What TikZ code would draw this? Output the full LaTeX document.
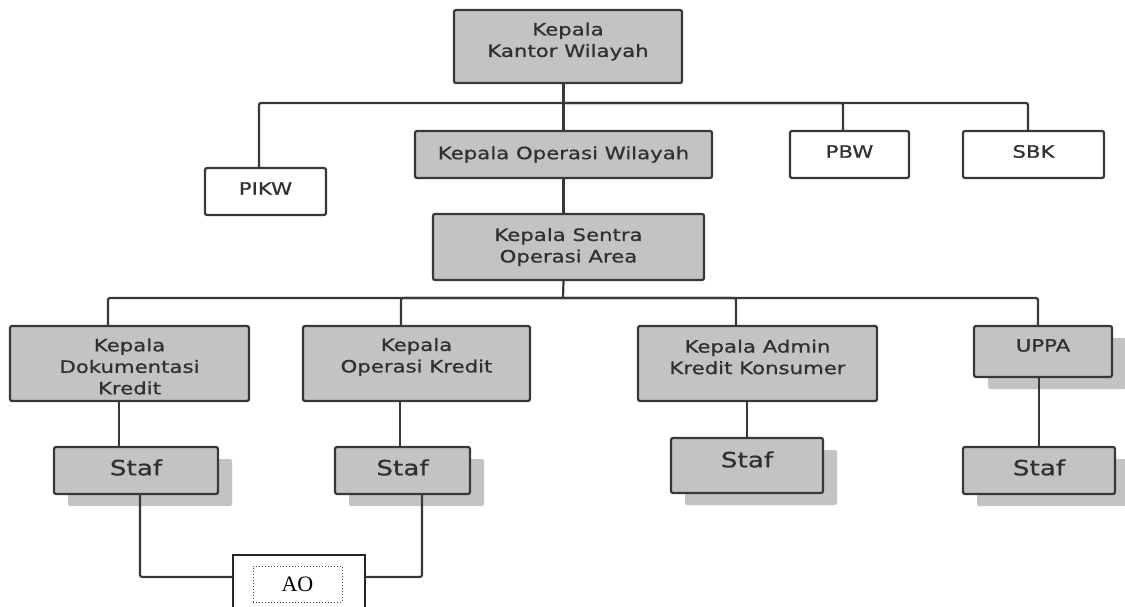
\documentclass[tikz,border=0pt]{standalone}
\usepackage{fontspec}
\newfontfamily\vf[FakeStretch=1.25,FakeBold=0.8]{DejaVu Sans}
\newfontfamily\tf{Liberation Serif}
\usetikzlibrary{shadows}
\definecolor{boxgray}{HTML}{C3C3C3}
\definecolor{linec}{HTML}{383838}
\definecolor{txtc}{HTML}{303030}
\begin{document}
\begin{tikzpicture}[x=1pt,y=-1pt,
 box/.style={draw=linec, line width=2.2pt, rounded corners=2pt, fill=boxgray, inner sep=0pt},
 wbox/.style={box, fill=white},
 txt/.style={font=\vf\fontsize{17}{21.5}\selectfont, text=txtc, align=center, inner sep=0pt},
 big/.style={font=\vf\fontsize{21}{25}\selectfont, text=txtc, inner sep=0pt},
 shad/.style={general shadow={fill=boxgray, shadow xshift=14pt, shadow yshift=-12pt}},
 conn/.style={draw=linec, line width=2.2pt, rounded corners=2pt}]
\useasboundingbox (0,0) rectangle (1125,606);
\fill[white] (0,0) rectangle (1125,606);

% level 0
\node[box, minimum width=228, minimum height=73, label={[txt,yshift=5pt]center:Kepala\\Kantor Wilayah}] (kkw) at (568,46.5) {};
% level 1
\node[wbox, minimum width=121, minimum height=47, label={[txt,yshift=3pt]center:PIKW}] (pikw) at (265.5,191.5) {};
\node[box, minimum width=297, minimum height=47, label={[txt]center:Kepala Operasi Wilayah}] (kow) at (563.5,154.5) {};
\node[wbox, minimum width=119, minimum height=47, label={[txt,yshift=3pt]center:PBW}] (pbw) at (849.5,154.5) {};
\node[wbox, minimum width=141, minimum height=47, label={[txt,yshift=3pt]center:SBK}] (sbk) at (1033.5,154.5) {};
% level 2
\node[box, minimum width=271, minimum height=66, label={[txt]center:Kepala Sentra\\Operasi Area}] (kso) at (568.5,247) {};
% level 3
\node[box, minimum width=239, minimum height=75, label={[txt,yshift=-3pt]center:Kepala\\Dokumentasi\\Kredit}] (kdk) at (129.5,363.5) {};
\node[box, minimum width=227, minimum height=75, label={[txt,yshift=6.5pt]center:Kepala\\Operasi Kredit}] (kok) at (416.5,363.5) {};
\node[box, minimum width=239, minimum height=75, label={[txt,yshift=6.5pt]center:Kepala Admin\\Kredit Konsumer}] (kak) at (757.5,363.5) {};
\node[box, shad, minimum width=138, minimum height=51, label={[txt,yshift=6pt]center:UPPA}] (uppa) at (1043,351.5) {};
% staff
\node[box, shad, minimum width=164, minimum height=47, label={[big,yshift=3pt]center:Staf}] (s1) at (136,470.5) {};
\node[box, shad, minimum width=135, minimum height=47, label={[big,yshift=3pt]center:Staf}] (s2) at (402.5,470.5) {};
\node[box, shad, minimum width=152, minimum height=55, label={[big,yshift=6pt]center:Staf}] (s3) at (747,465.5) {};
\node[box, shad, minimum width=152, minimum height=47, label={[big,yshift=3pt]center:Staf}] (s4) at (1039,470.5) {};
% AO
\node[draw=black!85, line width=2.2pt, fill=white, minimum width=132, minimum height=80, inner sep=0pt] (ao) at (299,595) {};
\node[draw=black!70, dotted, line width=1pt, minimum width=89, minimum height=36, inner sep=0pt, font=\tf\fontsize{22}{24}\selectfont] (aoin) at (297.5,584) {AO};

% connectors
\coordinate (b1) at (563,103);
\coordinate (b2) at (563,298);
\draw[conn] (kow.north) -- (kow.north |- kkw.south);
\draw[conn] ([xshift=-6.5pt]pikw.north) |- (b1);
\draw[conn] ([xshift=-6.5pt]pbw.north) |- (b1);
\draw[conn] ([xshift=-5.5pt]sbk.north) |- (b1);
\draw[conn] (kow.south) -- (kow.south |- kso.north);
\draw[conn] (kow.south |- kso.south) -- (b2);
\draw[conn] ([xshift=-21.5pt]kdk.north) |- (b2);
\draw[conn] ([xshift=-15.5pt]kok.north) |- (b2);
\draw[conn] ([xshift=-21.5pt]kak.north) |- (b2);
\draw[conn] ([xshift=-5pt]uppa.north) |- (b2);
\draw[conn] ([xshift=-17pt]s1.north) -- ([xshift=-17pt]s1.north |- kdk.south);
\draw[conn] ([xshift=-2.5pt]s2.north) -- ([xshift=-2.5pt]s2.north |- kok.south);
\draw[conn] (s3.north) -- (s3.north |- kak.south);
\draw[conn] (s4.north) -- (s4.north |- uppa.south);
\draw[conn] ([xshift=4pt]s1.south) |- ([yshift=-23pt]ao.north west);
\draw[conn] ([xshift=19.5pt]s2.south) |- ([yshift=-23pt]ao.north east);
\end{tikzpicture}
\end{document}
